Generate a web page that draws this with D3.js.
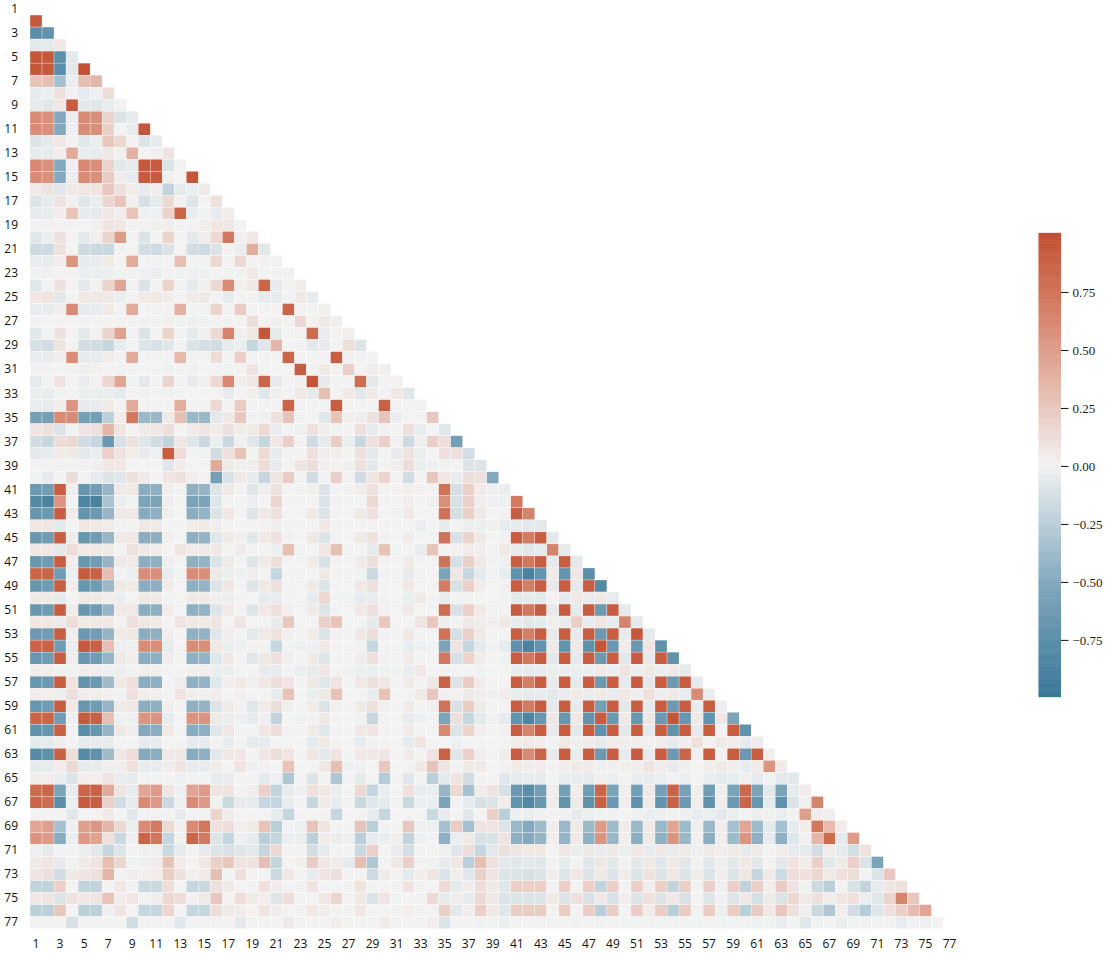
<!DOCTYPE html>
<html><head><meta charset="utf-8">
<script src="https://d3js.org/d3.v7.min.js"></script>
<style>html,body{margin:0;padding:0;background:#fff}svg{display:block}</style>
</head><body><svg id="c" width="1111" height="954"></svg>
<script>
const variables = d3.range(1, 78);
const axisTicks = d3.range(1, 78, 2);
const colorbarTicks = [-0.75, -0.5, -0.25, 0, 0.25, 0.5, 0.75];
const r02=[.93];
const r03=[-.75,-.7];
const r04=[-.07,-.06,.06];
const r05=[.95,.93,-.75,-.07];
const r06=[.95,.93,-.75,-.07,.98];
const r07=[.27,.3,-.35,-.03,.3,.35];
const r08=[-.05,-.03,.1,.01,-.06,-.02,.12];
const r09=[-.06,-.08,.07,.92,-.07,-.08,-.04,-.01];
const r10=[.6,.58,-.5,-.03,.6,.58,.18,-.1,-.05];
const r11=[.6,.58,-.5,-.02,.6,.58,.2,0,-.05,.95];
const r12=[-.1,-.06,.07,.01,-.08,-.03,.25,.16,.01,-.1,-.05];
const r13=[-.05,-.05,.03,.42,-.04,-.05,.06,.02,.38,0,.02,.08];
const r14=[.62,.58,-.5,-.02,.62,.58,.18,-.07,-.05,.93,.92,-.1,0];
const r15=[.6,.57,-.5,-.03,.6,.57,.23,.03,-.05,.92,.92,.02,0,.95];
const r16=[.05,.08,-.08,.06,.07,.08,.25,.1,.04,-.05,.03,-.22,-.05,-.03,.05];
const r17=[-.1,-.06,.09,.01,-.08,-.03,.16,.28,.02,-.13,-.06,.15,.01,-.09,0,.1];
const r18=[-.05,-.05,.03,.28,-.05,-.06,.07,.03,.28,-.02,-.02,.18,.85,-.04,-.01,-.05,.03];
const r19=[0,.01,.01,0,0,.02,.08,.07,0,.01,.02,.03,0,.01,.03,.07,.07,0];
const r20=[-.08,-.03,.1,0,-.07,.02,.18,.5,0,-.1,0,.18,0,-.07,.03,.15,.72,.03,.07];
const r21=[-.17,-.17,.1,0,-.17,-.18,-.18,0,0,-.14,-.16,-.1,0,-.15,-.17,-.1,0,-.03,.4,-.07];
const r22=[-.04,-.04,.03,.55,-.05,-.05,.05,0,.42,0,0,0,.3,0,0,.15,0,.15,0,.01,.01];
const r23=[-.01,-.02,.01,0,-.03,-.03,-.03,-.01,-.01,-.02,-.03,-.01,-.01,-.02,-.02,-.01,-.01,-.01,.06,0,0,.01];
const r24=[-.08,-.01,.1,0,-.07,.01,.18,.45,0,-.1,0,.18,0,-.06,.02,.15,.6,.03,.07,.85,-.05,0,.03];
const r25=[.07,.08,-.07,0,.06,.06,.06,-.03,0,.05,.06,.04,0,.05,.05,.01,-.05,0,0,-.05,-.05,-.01,.06,-.05];
const r26=[-.04,-.04,.03,.6,-.05,-.05,.05,0,.42,0,0,0,.38,0,0,.17,0,.22,0,0,0,.85,.01,0,.02];
const r27=[0,0,0,0,0,0,0,0,0,-.01,0,.02,-.01,-.02,-.01,0,0,0,.12,0,.02,0,.15,0,.05,.02];
const r28=[-.08,-.01,.1,0,-.07,.01,.18,.47,0,-.1,0,.18,0,-.06,.02,.15,.65,.03,.07,.95,-.06,0,.01,.8,-.04,0,.02];
const r29=[-.13,-.15,.08,0,-.14,-.15,-.2,-.04,0,-.1,-.12,-.08,0,-.1,-.14,-.15,-.05,-.03,-.2,-.08,.35,0,0,-.07,-.04,0,.12,-.1];
const r30=[-.04,-.04,.03,.58,-.05,-.05,.04,0,.42,0,0,0,.33,0,0,.13,0,.2,0,0,0,.85,0,0,.01,.9,.01,0,0];
const r31=[.01,.01,0,-.01,.02,.01,0,-.01,0,0,0,-.02,0,.01,0,0,-.01,0,.08,0,0,0,.9,0,.06,0,.2,0,.04,.02];
const r32=[-.06,-.01,.09,0,-.04,.01,.16,.45,0,-.07,0,.17,0,-.04,.02,.15,.62,.03,.06,.85,-.05,0,.01,.95,-.05,0,-.01,.8,-.07,0,.01];
const r33=[-.03,-.04,-.01,0,-.03,-.03,-.03,-.06,0,-.01,0,-.01,0,0,0,0,-.05,0,.02,-.08,.02,0,.06,-.06,.3,0,.05,-.07,.05,0,.07,-.08];
const r34=[-.04,-.04,.03,.55,-.05,-.05,.05,0,.42,0,0,0,.4,0,0,.15,0,.22,0,0,0,.85,0,0,0,.9,0,0,0,.88,0,0,0];
const r35=[-.6,-.6,.6,.6,-.6,-.6,-.25,.03,.72,-.4,-.4,.05,.3,-.4,-.4,-.07,.05,.25,-.01,-.02,.1,.27,0,0,-.08,.28,.02,.03,.1,.27,-.03,0,0,.25];
const r36=[.08,.1,-.1,0,.08,.1,.35,.08,0,.05,.07,.12,0,.04,.08,.04,.1,.04,.05,.14,-.04,0,-.02,.1,.03,0,0,.1,-.05,-.01,0,.1,-.04,0,-.08];
const r37=[-.15,-.2,.13,.15,-.15,-.2,-.65,-.12,.1,-.08,-.15,-.22,.07,-.08,-.18,-.03,-.18,.02,-.08,-.2,.07,.2,0,-.17,-.06,.22,-.03,-.18,.1,.2,.01,-.17,.02,.2,.12,-.6];
const r38=[-.07,-.04,.05,.05,-.07,-.03,.2,.08,.04,-.04,-.02,.9,.13,0,-.01,-.15,.1,.28,0,.14,-.05,0,0,.1,.03,.03,0,.1,-.07,0,-.05,.09,-.03,0,.1,.1,-.14];
const r39=[0,.01,.01,0,.01,.02,.07,.07,0,0,0,-.08,.03,0,0,.42,.05,-.02,.03,.13,-.05,0,.08,.13,.02,.01,.02,.1,-.07,0,.03,.12,-.03,-.02,-.01,0,-.1,-.1];
const r40=[-.01,-.05,0,.12,0,-.05,-.1,-.08,.1,.05,0,.08,.1,.03,0,-.6,-.12,.06,-.05,-.2,.08,.22,0,-.15,0,.2,0,-.15,.08,.18,0,-.15,0,.25,.07,-.04,.12,.1,-.5];
const r41=[-.65,-.62,.9,.03,-.68,-.62,-.42,.05,.06,-.47,-.45,.03,0,-.45,-.42,-.1,.06,0,-.08,.03,.1,0,0,.02,-.1,0,0,.03,.1,0,0,.02,.01,0,.75,-.13,.2,.04,-.02,-.03];
const r42=[-.8,-.88,.55,0,-.85,-.88,-.33,-.03,-.01,-.55,-.55,.03,0,-.55,-.55,-.08,0,0,-.03,0,.16,0,0,0,-.1,0,0,0,.15,0,0,.03,0,.02,.58,-.12,.2,.03,-.02,-.02,.7];
const r43=[-.68,-.65,.9,.04,-.7,-.65,-.42,.05,.06,-.48,-.45,.03,0,-.47,-.43,-.1,.07,0,-.09,.06,.1,0,0,.05,-.1,0,0,.05,.1,0,-.01,.05,0,0,.75,-.13,.2,.05,0,.01,.9,.65];
const r44=[.07,.07,-.07,0,.06,.06,.04,0,0,.05,.05,0,0,.04,.05,.03,0,0,0,.01,.03,0,0,0,.06,0,0,0,0,0,0,0,-.03,0,-.05,0,-.03,-.03,.02,-.04,-.05,-.07,-.07];
const r45=[-.68,-.63,.9,.04,-.68,-.63,-.42,.05,.06,-.47,-.45,.03,0,-.45,-.43,-.08,.05,.02,-.08,.06,.1,.01,0,.06,-.1,0,0,.05,.1,.01,0,.04,0,0,.75,-.12,.18,.05,0,.01,.9,.7,.9,-.07];
const r46=[.06,.07,-.07,.12,.05,.06,.05,0,.1,.05,.04,0,.08,.04,.05,.06,0,.05,0,0,-.03,.3,0,0,.07,.3,0,0,-.05,.28,0,0,-.04,.28,0,.01,.04,.03,.01,.05,-.05,-.08,-.06,.65,-.05];
const r47=[-.68,-.63,.9,.03,-.68,-.63,-.42,.05,.05,-.47,-.45,.03,0,-.45,-.43,-.1,.05,0,-.09,.05,.12,0,0,.05,-.12,0,0,.05,.12,0,0,.05,0,0,.75,-.13,.2,.05,-.01,-.02,.9,.72,.9,-.06,.9,-.07];
const r48=[.85,.85,-.62,-.03,.92,.88,.3,0,-.03,.6,.58,-.04,0,.6,.58,.05,-.03,-.02,.04,0,-.2,0,0,0,.05,0,0,-.01,-.18,0,0,-.05,0,0,-.55,.07,-.2,-.06,.01,-.04,-.72,-.88,-.7,.05,-.7,.06,-.75];
const r49=[-.68,-.63,.9,.03,-.68,-.63,-.4,.05,.05,-.47,-.45,.04,0,-.45,-.43,-.1,.07,0,-.09,.06,.1,0,0,.05,-.1,0,0,.06,.1,0,0,.06,0,0,.7,-.12,.2,.04,0,.01,.9,.68,.9,-.05,.9,-.06,.9,-.8];
const r50=[.05,.05,-.06,0,.06,.05,.03,-.03,0,.05,.05,0,0,.05,.05,.02,-.03,0,0,-.05,-.05,0,0,-.05,.15,0,-.01,-.05,-.05,0,0,-.03,.05,0,-.05,0,-.01,0,0,-.01,-.07,-.06,-.07,.01,-.06,.06,-.05,.06,-.05];
const r51=[-.68,-.63,.9,.03,-.68,-.63,-.42,.05,.06,-.47,-.45,.04,0,-.45,-.43,-.09,.06,0,-.1,.06,.1,.02,0,.05,-.1,0,0,.06,.1,.01,0,.05,0,0,.8,-.12,.2,.05,-.01,0,.9,.72,.9,-.05,.9,-.06,.9,-.65,.9,-.06];
const r52=[.07,.07,-.04,.12,.05,.06,.06,0,.1,.06,.05,0,.08,.05,.05,.08,0,.08,0,0,-.05,.25,0,0,.2,.28,0,0,-.06,.25,0,0,.08,.25,.02,0,.06,.04,.03,.06,-.05,-.07,-.06,.03,-.05,.2,-.05,.08,-.05,.65,-.06];
const r53=[-.65,-.62,.9,.03,-.66,-.62,-.42,.05,.06,-.47,-.45,.03,0,-.45,-.43,-.08,.03,0,-.07,.06,.1,.02,0,.05,-.1,0,0,.06,.12,0,0,.06,0,0,.75,-.13,.2,.05,0,0,.9,.68,.9,-.05,.9,-.05,.9,-.65,.9,-.05,.95,-.06];
const r54=[.87,.87,-.62,-.03,.93,.88,.3,-.02,-.02,.6,.58,-.04,0,.6,.58,.06,-.03,-.02,.01,-.01,-.2,0,-.02,-.02,.05,0,0,-.01,-.2,0,0,-.04,-.02,0,-.55,.08,-.2,-.06,.01,-.04,-.72,-.88,-.7,.05,-.7,.06,-.72,.95,-.65,.04,-.65,.07,-.72];
const r55=[-.68,-.63,.9,.03,-.68,-.62,-.42,.05,.03,-.47,-.45,.03,0,-.45,-.43,-.08,.06,0,-.08,.06,.1,.02,0,.05,-.09,0,0,.04,.1,.01,0,.05,0,0,.72,-.12,.18,.04,0,-.01,.9,.72,.9,-.07,.9,-.06,.9,-.65,.9,-.07,.92,-.06,.9,-.72];
const r56=[.03,.03,-.01,0,.03,.03,-.02,-.03,-.01,.02,.02,0,0,.02,.03,-.03,-.03,0,0,-.05,-.04,0,-.03,-.05,.07,0,-.01,-.03,-.03,-.01,-.01,-.04,.06,0,-.01,0,0,-.01,0,0,-.05,-.06,-.05,-.03,-.03,-.03,-.03,.05,-.03,.08,-.03,.06,-.03,.05,-.06];
const r57=[-.68,-.65,.9,.08,-.7,-.65,-.38,.05,.1,-.47,-.45,0,.04,-.45,-.43,-.08,.03,.05,-.02,.07,.12,.08,0,.06,-.08,.08,0,.06,.1,.06,0,.05,0,.06,.87,-.1,.22,.04,0,0,.9,.68,.9,-.05,.9,-.06,.9,-.65,.9,-.06,.92,-.07,.9,-.65,.9,-.05];
const r58=[.03,.03,-.03,.1,.03,.03,.02,-.01,.1,.03,.03,-.01,.08,.03,.02,.04,0,.03,0,0,-.04,.28,0,-.03,.05,.28,0,0,-.04,.28,0,0,.05,.25,.02,.01,.05,.03,.02,.04,-.04,-.06,-.05,-.07,-.04,.05,-.04,.05,-.04,.06,-.03,.1,-.03,.05,-.04,.6,-.03];
const r59=[-.68,-.63,.9,.05,-.68,-.63,-.42,.05,.06,-.47,-.45,.03,0,-.45,-.43,-.1,.05,.01,-.08,.05,.12,.02,0,.05,-.1,.02,0,.05,.1,.02,0,.05,0,.02,.75,-.12,.22,.05,0,0,.9,.7,.9,-.06,.9,-.06,.9,-.6,.9,-.07,.9,-.06,.9,-.65,.9,-.04,.9,-.03];
const r60=[.85,.85,-.62,-.02,.92,.88,.3,-.02,-.02,.55,.55,-.04,0,.55,.55,.05,-.03,-.02,-.06,-.02,-.22,0,-.01,-.01,.06,0,0,-.01,-.2,0,0,-.04,-.02,0,-.55,.1,-.2,-.06,.01,-.05,-.7,-.85,-.68,.06,-.68,.06,-.7,.92,-.65,.05,-.68,.07,-.65,.95,-.68,.05,-.7,.06,-.55];
const r61=[-.72,-.68,.88,0,-.75,-.68,-.42,.06,.03,-.5,-.47,.05,0,-.48,-.45,-.08,.07,0,0,.07,.12,0,0,.05,-.08,0,0,.06,.08,0,0,.05,0,0,.62,-.1,.18,.03,0,.01,.9,.65,.9,-.05,.9,-.07,.9,-.72,.9,-.07,.9,-.06,.9,-.72,.9,-.05,.9,0,.9,-.72];
const r62=[-.06,-.06,.03,0,-.05,-.05,-.05,0,0,-.05,-.05,0,0,-.05,-.05,0,-.04,0,-.06,-.05,0,0,0,-.06,.05,0,0,-.04,.01,0,0,-.05,.08,0,0,-.02,0,0,0,0,.04,.05,.04,-.01,.05,-.02,.04,-.05,.04,.03,.03,.02,.03,-.05,.02,.1,0,.05,.03,-.05,.04];
const r63=[-.78,-.72,.88,.12,-.78,-.72,-.38,.06,.13,-.5,-.47,.05,.06,-.48,-.45,-.07,.06,.07,0,.07,.12,.08,0,.07,-.07,.08,0,.06,.07,.07,0,.05,0,.08,.87,-.08,.2,.03,0,.03,.9,.6,.85,-.05,.9,-.04,.9,-.65,.9,-.05,.92,-.05,.9,-.65,.85,-.02,.9,0,.9,-.65,.9,.02];
const r64=[-.06,-.06,.04,.15,-.05,-.05,.02,.03,.1,-.04,-.04,.03,.08,-.04,-.04,.04,0,.08,-.02,.01,0,.28,0,0,.06,.3,-.02,-.02,0,.25,0,0,.05,.27,.08,0,.05,.05,0,.01,.04,.03,.04,0,.03,.05,.04,-.02,.02,.03,.03,.08,.03,-.05,.02,0,.03,.05,.02,-.04,.04,.55,.05];
const r65=[.03,.03,-.04,-.1,.03,.03,.08,-.04,-.05,0,0,0,-.02,0,0,-.05,-.04,0,0,-.06,-.02,-.3,0,-.1,0,-.3,0,-.06,0,-.28,0,-.08,0,-.25,-.07,.08,-.15,0,0,-.08,-.05,-.04,-.05,0,-.04,-.04,-.05,.02,-.03,0,-.04,-.05,-.03,.01,-.03,0,-.04,-.06,-.04,.02,-.05,0,-.07,-.07];
const r66=[.8,.85,-.55,-.04,.85,.87,.42,.08,-.05,.45,.5,.08,-.02,.45,.5,.08,.08,0,.03,.2,-.22,-.05,-.02,.1,.06,-.03,0,.15,-.2,-.03,0,.1,-.04,-.03,-.42,.15,-.35,.04,.08,-.12,-.65,-.75,-.6,.03,-.6,.04,-.62,.85,-.55,.02,-.6,.05,-.6,.85,-.58,.03,-.62,.02,-.55,.82,-.55,-.07,-.55,-.05,.04];
const r67=[.85,.8,-.75,-.03,.92,.9,.2,-.15,-.05,.6,.52,-.18,-.02,.6,.52,-.01,-.18,-.05,-.06,-.2,-.2,-.03,0,-.2,.05,-.04,0,-.18,-.08,-.05,0,-.18,-.03,-.03,-.55,0,-.05,-.12,-.1,.04,-.7,-.82,-.68,.04,-.7,.05,-.72,.88,-.65,.03,-.72,.05,-.7,.88,-.65,.03,-.72,.03,-.65,.85,-.68,-.06,-.72,-.1,.02,.65];
const r68=[0,0,0,-.08,0,0,.05,0,-.07,0,0,0,-.05,0,0,.18,.04,0,0,0,-.04,-.2,0,0,.01,-.2,0,0,-.04,-.2,0,0,0,-.18,-.05,0,-.07,0,.2,-.25,-.02,-.03,-.02,0,-.02,-.05,-.03,-.01,-.02,0,-.02,-.03,-.02,-.01,-.02,-.04,-.03,-.07,-.03,0,-.03,.02,-.03,0,.48,.03,-.02];
const r69=[.45,.48,-.35,-.02,.48,.53,.35,.15,-.03,.6,.7,.15,.02,.6,.72,.1,.12,.02,.05,.28,-.25,0,-.02,.27,.08,0,0,.27,-.25,0,0,.25,-.02,-.02,-.35,.22,-.35,.08,.08,-.1,-.4,-.5,-.38,.03,-.4,.05,-.4,.5,-.38,.04,-.4,.05,-.4,.45,-.38,.02,-.4,.03,-.35,.45,-.38,-.06,-.35,-.05,.04,.72,.32,.04];
const r70=[.55,.5,-.48,-.03,.52,.47,.1,-.18,-.02,.85,.72,-.2,0,.85,.7,-.1,-.2,-.02,-.06,-.25,-.2,-.03,-.03,-.25,.04,-.03,-.02,-.25,-.05,-.03,.02,-.22,-.02,0,-.45,-.03,.05,-.12,-.12,.08,-.45,-.5,-.42,.03,-.42,.05,-.45,.55,-.4,.03,-.47,.05,-.45,.55,-.4,.02,-.47,.03,-.38,.55,-.45,-.05,-.45,-.08,-.01,.35,.8,-.05,.5];
const r71=[-.02,-.06,0,0,-.03,-.07,-.2,-.09,0,.02,.02,-.18,-.05,.01,-.05,-.1,-.12,-.08,-.07,-.2,.15,0,0,-.14,-.06,0,0,-.18,.2,0,-.04,-.14,0,0,.02,-.08,.13,-.2,-.07,.1,.08,.06,.06,0,.07,-.03,.06,-.05,.06,-.03,.07,-.04,.06,-.05,.05,-.02,.05,.03,.05,-.05,.05,0,.04,-.05,-.06,-.15,.04,-.06,-.14,.09];
const r72=[.05,.08,-.05,-.01,.05,.08,.3,.16,-.01,-.02,.04,.28,.04,0,.07,.2,.25,.08,.09,.3,-.2,0,.02,.22,.07,.03,-.05,.3,-.3,0,.06,.2,0,-.01,-.05,.07,-.25,.3,.1,-.07,-.08,-.07,-.08,0,-.06,0,-.08,.07,-.07,0,-.07,.05,-.08,.05,-.07,0,-.07,.02,-.07,.06,-.07,0,-.07,.08,.04,.2,-.07,.05,.2,-.1,-.55];
const r73=[.08,.1,-.15,.05,.08,.1,.35,0,.03,.02,.04,.22,.1,.02,.05,.3,0,.1,0,0,-.18,.06,0,-.05,.08,.1,0,0,-.17,.04,0,-.06,.03,.08,-.1,.02,-.08,.2,.08,-.1,-.1,-.12,-.1,.03,-.09,.06,-.1,.06,-.1,.04,-.1,.09,-.1,.07,-.1,.04,-.1,.03,-.1,.07,-.2,.05,-.17,.12,.1,.16,.05,.1,.12,0,-.1,.25];
const r74=[-.22,-.22,.2,0,-.22,-.22,0,.07,0,-.18,-.18,.12,0,-.2,-.18,.1,.05,0,0,.1,.04,0,.01,.08,0,0,0,.09,0,0,0,.08,0,0,.14,-.06,.03,.12,.05,-.08,.2,.2,.2,0,.2,0,.2,-.22,.2,0,.2,.02,.2,-.22,.2,-.01,.2,-.02,.2,-.22,.2,.03,.22,.08,-.01,-.17,-.25,0,-.12,-.22,-.05,.07,.1];
const r75=[.06,.08,-.1,.09,.06,.08,.28,.03,.07,0,.03,.15,.13,.01,.05,.25,.01,.12,.05,.03,-.09,.12,0,0,.07,.16,0,.06,-.1,.08,0,0,0,.14,-.05,.03,-.05,.15,.06,-.1,-.1,-.1,-.1,.05,-.1,.1,-.12,.06,-.12,.03,-.1,.1,-.1,.06,-.12,0,-.09,.01,-.09,.06,-.13,.05,-.1,.15,.05,.1,.03,.07,.1,-.03,-.08,.17,.65,.25];
const r76=[-.24,-.24,.25,0,-.24,-.24,-.02,.08,0,-.2,-.2,.17,0,-.2,-.2,.12,.05,.03,0,.08,.03,0,0,.06,.03,0,0,.07,0,0,0,.03,0,0,.2,-.07,.03,.2,.06,-.08,.22,.22,.22,0,.22,0,.22,-.25,.22,0,.22,.04,.22,-.25,.22,-.01,.22,-.02,.22,-.25,.22,.06,.25,.1,.02,-.18,-.3,.03,-.15,-.27,-.08,.1,.2,.32,.45];
const r77=[0,0,0,-.12,0,0,0,0,-.15,0,0,0,-.08,0,0,.01,.01,-.07,0,0,0,.05,0,0,0,.03,0,0,0,.05,0,0,0,.03,-.1,0,0,-.01,-.01,-.03,0,0,-.01,0,0,-.01,0,-.01,0,0,-.01,0,-.01,-.01,0,-.01,0,-.01,-.01,-.01,-.02,-.01,-.04,-.01,-.08,-.01,0,-.03,-.01,-.01,-.01,0,-.04,-.01,-.02,0];
const lowerRows=[r02,r03,r04,r05,r06,r07,r08,r09,r10,r11,r12,r13,r14,r15,r16,r17,r18,r19,r20,r21,r22,r23,r24,r25,r26,r27,r28,r29,r30,r31,r32,r33,r34,r35,r36,r37,r38,r39,r40,r41,r42,r43,r44,r45,r46,r47,r48,r49,r50,r51,r52,r53,r54,r55,r56,r57,r58,r59,r60,r61,r62,r63,r64,r65,r66,r67,r68,r69,r70,r71,r72,r73,r74,r75,r76,r77];

const svg = d3.select("#c");
const x = d3.scaleBand().domain(variables).range([30, 955.5]);
const y = d3.scaleBand().domain(variables).range([3, 928.6]);
const color = d3.scaleLinear()
  .domain([-1, -0.75, -0.5, -0.25, 0, 0.25, 0.5, 0.75, 1])
  .range(["#3a7797", "#5b8fa9", "#84a9bd", "#bbcfd9", "#f2f2f2", "#e8c8be", "#dd9c8a", "#cf7358", "#c14f33"])
  .interpolate(d3.interpolateLab).clamp(true);

const cells = lowerRows.flatMap((row, i) => row.map((v, j) => ({r: variables[i + 1], c: variables[j], v})));
svg.append("g").selectAll("rect").data(cells).join("rect")
  .attr("x", d => x(d.c)).attr("y", d => y(d.r))
  .attr("width", x.bandwidth()).attr("height", y.bandwidth())
  .attr("fill", d => color(d.v)).attr("stroke", "#fff").attr("stroke-width", 0.3);

const tickFont = "'Open Sans', sans-serif";
const xAxis = svg.append("g").attr("transform", "translate(0,938)")
  .call(d3.axisBottom(x).tickValues(axisTicks).tickSize(0).tickPadding(1));
const yAxis = svg.append("g").attr("transform", "translate(18,0)")
  .call(d3.axisLeft(y).tickValues(axisTicks).tickSize(0).tickPadding(0));
[xAxis, yAxis].forEach(a => {
  a.select(".domain").remove();
  a.selectAll("text").attr("font-family", tickFont).attr("font-size", 12).attr("fill", "#111");
});

const cbX = 1038.5, cbW = 22.5;
const cbScale = d3.scaleLinear().domain([-0.995, 0.9987]).range([696.7, 234.3]);
const levels = d3.range(-0.995, 0.9987, 0.008);
const cb = svg.append("g");
cb.selectAll("rect").data(levels).join("rect")
  .attr("x", cbX).attr("width", cbW)
  .attr("y", d => cbScale(d + 0.008)).attr("height", d => cbScale(d) - cbScale(d + 0.008) + 0.5)
  .attr("fill", d => color(d));
const cbAxis = svg.append("g").attr("transform", `translate(${cbX + cbW},0)`)
  .call(d3.axisRight(cbScale).tickValues(colorbarTicks.concat()).tickSize(7.5).tickPadding(4)
    .tickFormat(d => d3.format(".2f")(d).replace("-", "\u2212")));
cbAxis.select(".domain").remove();
cbAxis.selectAll("line").attr("stroke", "#111").attr("stroke-width", 1);
cbAxis.selectAll("text").attr("font-family", "'Liberation Serif', serif").attr("font-size", 13).attr("fill", "#222");
</script></body></html>
